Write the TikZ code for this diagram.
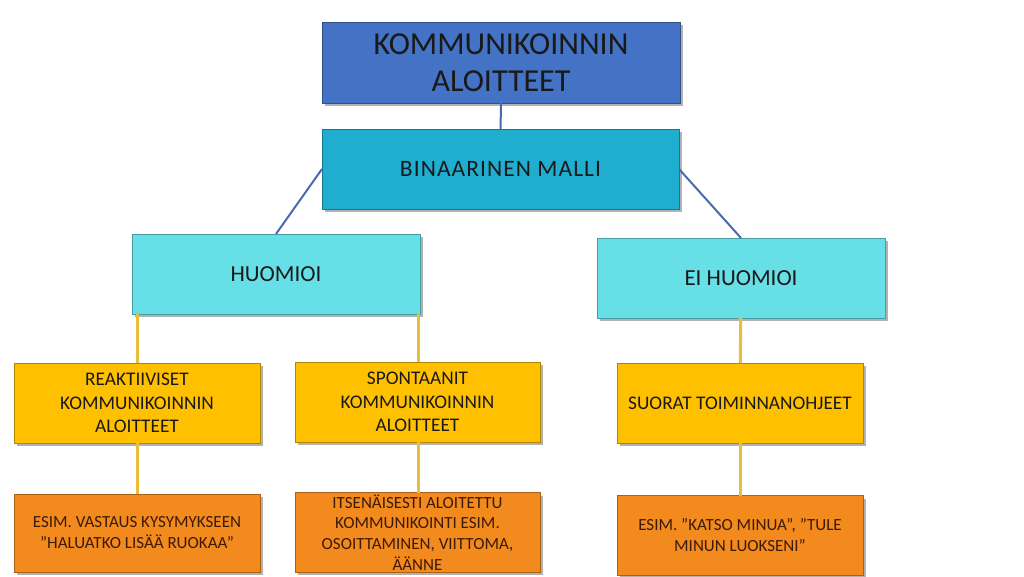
\documentclass[tikz,border=0pt]{standalone}
\usepackage{fontspec}
\setmainfont{Carlito}
\usetikzlibrary{positioning,shadows}

\definecolor{topblue}{HTML}{4472C4}
\definecolor{midblue}{HTML}{1FADD0}
\definecolor{lightcyan}{HTML}{66E0E6}
\definecolor{boxyellow}{HTML}{FFC000}
\definecolor{boxorange}{HTML}{F28A1E}
\definecolor{linkblue}{HTML}{4A6AAE}
\definecolor{linkyellow}{HTML}{E8BE3A}
\definecolor{browntext}{HTML}{3D1A05}

\begin{document}
\begin{tikzpicture}[
    x=1pt, y=-1pt,
    box/.style={draw=#1!70!black, fill=#1, line width=0.8pt, inner sep=2pt, outer sep=0pt,
        align=center, text=black!90,
        drop shadow={shadow xshift=3pt, shadow yshift=-3pt, opacity=0.5, fill=black!60}},
    bluelink/.style={draw=linkblue, line width=2pt},
    yellink/.style={draw=linkyellow, line width=3pt}
]
\useasboundingbox (0,0) rectangle (1024,576);

% levels
\node[box=topblue, minimum width=358pt, minimum height=81pt,
      font=\fontsize{32}{37}\selectfont] (title) at (501,62.5) {KOMMUNIKOINNIN\\ALOITTEET};
\node[box=midblue, minimum width=357pt, minimum height=80pt,
      font=\fontsize{23.5}{27}\selectfont\addfontfeature{LetterSpace=4.5}] (binary) at (500.5,169) {BINAARINEN MALLI};
\node[box=lightcyan, minimum width=288pt, minimum height=80pt,
      font=\fontsize{23}{27}\selectfont] (notice) at (276,274) {HUOMIOI};
\node[box=lightcyan, minimum width=288pt, minimum height=80pt,
      font=\fontsize{23}{27}\selectfont] (ignore) at (741,278) {EI HUOMIOI};

\node[box=boxyellow, minimum width=246pt, minimum height=80pt,
      font=\fontsize{19.3}{23.5}\selectfont] (reactive) at (137,403) {REAKTIIVISET\\KOMMUNIKOINNIN\\ALOITTEET};
\node[box=boxyellow, minimum width=245pt, minimum height=80pt,
      font=\fontsize{19.3}{23.5}\selectfont] (spont) at (417.5,402) {SPONTAANIT\\KOMMUNIKOINNIN\\ALOITTEET};
\node[box=boxyellow, minimum width=246pt, minimum height=80pt,
      font=\fontsize{19.3}{23.5}\selectfont] (direct) at (740,403) {SUORAT TOIMINNANOHJEET};

\node[box=boxorange, text=browntext, minimum width=246pt, minimum height=78pt,
      font=\fontsize{17}{21}\selectfont] (exreact) at (137,533) {ESIM. VASTAUS KYSYMYKSEEN\\”HALUATKO LISÄÄ RUOKAA”};
\node[box=boxorange, text=browntext, minimum width=245pt, minimum height=78pt,
      font=\fontsize{17}{20.7}\selectfont] (exspont) at (417.5,532.5) {ITSENÄISESTI ALOITETTU\\KOMMUNIKOINTI ESIM.\\OSOITTAMINEN, VIITTOMA,\\ÄÄNNE};
\node[box=boxorange, text=browntext, minimum width=246pt, minimum height=80pt,
      font=\fontsize{17}{21}\selectfont] (exdirect) at (740,535.5) {ESIM. ”KATSO MINUA”, ”TULE\\MINUN LUOKSENI”};

% connectors
\draw[bluelink] (title) -- (binary);
\draw[bluelink] (binary.west) -- (notice.north);
\draw[bluelink] (binary.east) -- (ignore.north);
\draw[yellink] (reactive.north |- notice.south) -- (reactive.north);
\draw[yellink] ([xshift=1pt]spont.north |- notice.south) -- ([xshift=1pt]spont.north);
\draw[yellink] (ignore) -- (direct);
\draw[yellink] (reactive) -- (exreact);
\draw[yellink] ([xshift=1pt]spont.south) -- ([xshift=1pt]exspont.north);
\draw[yellink] (direct) -- (exdirect);
\end{tikzpicture}
\end{document}
